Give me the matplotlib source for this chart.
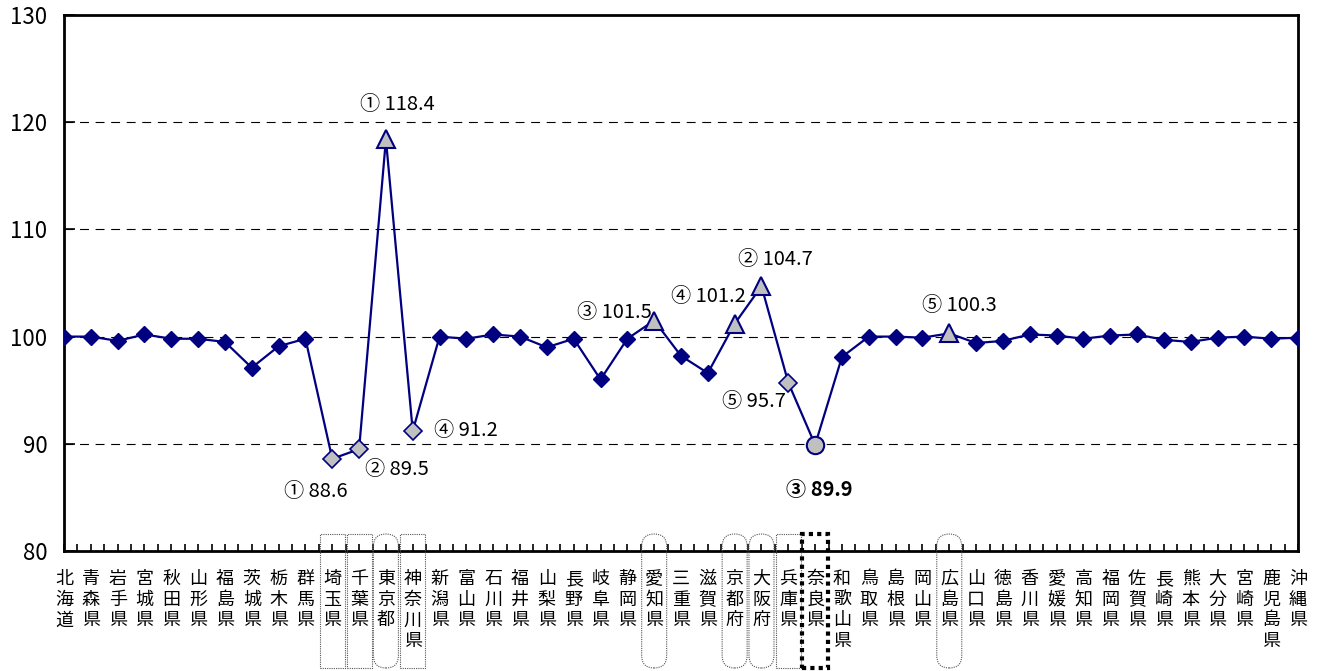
import numpy as np
import matplotlib.pyplot as plt
from matplotlib.patches import FancyBboxPatch, Rectangle

plt.rcParams['font.family'] = ['Noto Sans CJK JP', 'DejaVu Sans']

# 都道府県と指数
prefs = ['北海道', '青森県', '岩手県', '宮城県', '秋田県', '山形県', '福島県', '茨城県',
         '栃木県', '群馬県', '埼玉県', '千葉県', '東京都', '神奈川県', '新潟県', '富山県',
         '石川県', '福井県', '山梨県', '長野県', '岐阜県', '静岡県', '愛知県', '三重県',
         '滋賀県', '京都府', '大阪府', '兵庫県', '奈良県', '和歌山県', '鳥取県', '島根県',
         '岡山県', '広島県', '山口県', '徳島県', '香川県', '愛媛県', '高知県', '福岡県',
         '佐賀県', '長崎県', '熊本県', '大分県', '宮崎県', '鹿児島県', '沖縄県']
values = [100.0, 100.0, 99.6, 100.2, 99.8, 99.8, 99.5, 97.1,
          99.1, 99.8, 88.6, 89.5, 118.4, 91.2, 100.0, 99.8,
          100.2, 100.0, 99.0, 99.8, 96.0, 99.8, 101.5, 98.2,
          96.6, 101.2, 104.7, 95.7, 89.9, 98.1, 100.0, 100.0,
          99.9, 100.3, 99.4, 99.6, 100.2, 100.1, 99.8, 100.1,
          100.2, 99.7, 99.5, 99.9, 100.0, 99.8, 99.9]

# 順位付きの県
high_prefs = ['東京都', '大阪府', '愛知県', '京都府', '広島県']
low_prefs = ['埼玉県', '千葉県', '奈良県', '神奈川県', '兵庫県']
rank_marks = ['①', '②', '③', '④', '⑤']

# ラベル位置 (ピクセルオフセット)
offsets = {'東京都': (11, 35), '大阪府': (14, 27), '愛知県': (-40, 8), '京都府': (-26, 27),
           '広島県': (10, 28), '埼玉県': (-16, -33), '千葉県': (38, -20), '奈良県': (4, -45),
           '神奈川県': (53, 0), '兵庫県': (-34, -19)}
rounded = ['東京都', '愛知県', '京都府', '大阪府', '広島県']
square = ['埼玉県', '千葉県', '神奈川県', '兵庫県']

navy = '#000080'
x = np.arange(len(prefs))
plain = [i for i, p in enumerate(prefs) if p not in high_prefs + low_prefs]

fig = plt.figure(figsize=(13.18, 6.71), dpi=100)
ax = fig.add_axes([64 / 1318, 120 / 671, 1234 / 1318, 536 / 671])

ax.plot(x, values, color=navy, lw=1.6, marker='D', ms=8.5, mfc=navy, mec=navy,
        markevery=plain, zorder=3)

for i, p in enumerate(prefs):
    if p in high_prefs:
        ax.plot(i, values[i], marker='^', ms=12.5, mfc='#c0c0c0', mec=navy, mew=1.5, zorder=4)
        rank = rank_marks[high_prefs.index(p)]
    elif p in low_prefs:
        rank = rank_marks[low_prefs.index(p)]
        if p == '奈良県':
            ax.plot(i, values[i], marker='o', ms=12.5, mfc='#c0c0c0', mec=navy, mew=1.5, zorder=4)
        else:
            ax.plot(i, values[i], marker='D', ms=9, mfc='#c0c0c0', mec=navy, mew=1.2, zorder=4)
    else:
        continue
    ax.annotate(f'{rank} {values[i]:.1f}', (i, values[i]), xytext=offsets[p],
                textcoords='offset pixels', ha='center', va='center', fontsize=14.5,
                fontweight='bold' if p == '奈良県' else 'normal')

ax.set_xlim(0, len(prefs) - 1)
ax.set_ylim(80, 130)
ax.set_yticks([80, 90, 100, 110, 120, 130])
for g in [90, 100, 110, 120]:
    ax.axhline(g, color='black', lw=0.8, ls=(0, (8, 6)), zorder=1)

ax.set_xticks(np.arange(0, len(prefs) - 0.5, 0.5))
ax.set_xticklabels([])
ax.tick_params(axis='x', direction='in', length=5, width=1.2)
ax.tick_params(axis='y', direction='in', length=8, width=1.2, labelsize=16, pad=12)
for s in ax.spines.values():
    s.set_linewidth(2)

# 縦書きの県名
for i, p in enumerate(prefs):
    ax.text(i, -0.035, '\n'.join(p), transform=ax.get_xaxis_transform(),
            ha='center', va='top', fontsize=13, linespacing=1.2)

# 県名を囲む枠
fig_h = fig.get_size_inches()[1] * fig.dpi
top, bottom = fig_h - 534, fig_h - 668
for i, p in enumerate(prefs):
    px = ax.transData.transform((i, 100))[0]
    w = 25
    if p in rounded:
        patch = FancyBboxPatch((px - w / 2, bottom), w, top - bottom,
                               boxstyle=f'round,pad=0,rounding_size={w / 2}',
                               fill=False, ec='#555555', lw=0.8, ls=(0, (1, 1)),
                               transform=None, clip_on=False)
    elif p in square:
        patch = Rectangle((px - w / 2, bottom), w, top - bottom, fill=False,
                          ec='#555555', lw=0.8, ls=(0, (1, 1)),
                          transform=None, clip_on=False)
    elif p == '奈良県':
        patch = Rectangle((px - 13, bottom), 26, top - bottom, fill=False,
                          ec='black', lw=3, ls=(0, (1, 1)),
                          transform=None, clip_on=False)
    else:
        continue
    fig.patches.append(patch)

fig.savefig('out.png', dpi=100)
